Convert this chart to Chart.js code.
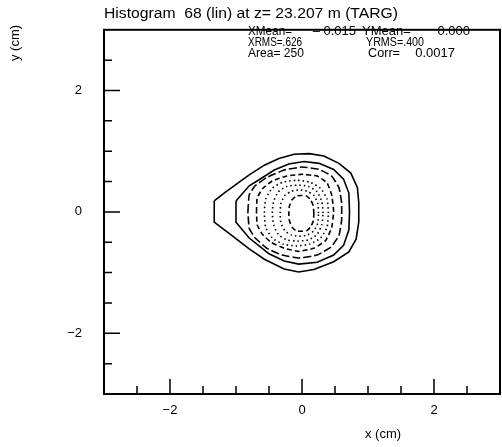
<!DOCTYPE html>
<html>
<head>
<meta charset="utf-8">
<script src="https://cdn.jsdelivr.net/npm/chart.js@4/dist/chart.umd.min.js"></script>
<style>
  body { margin: 0; background: #fff; }
  canvas { display: block; }
</style>
</head>
<body>
<canvas id="beamChart" width="502" height="447"></canvas>
<script>
// --- contour levels of histogram 68, x/y in cm ---
const contourOuter = [
  [-1.33, 0.18], [-1.18, 0.31], [-1.03, 0.43], [-0.80, 0.61], [-0.57, 0.77], [-0.35, 0.88],
  [-0.12, 0.95], [0.11, 0.96], [0.33, 0.92], [0.56, 0.80], [0.74, 0.64], [0.84, 0.40],
  [0.86, 0.15], [0.86, -0.17], [0.82, -0.45], [0.71, -0.66], [0.48, -0.82], [0.18, -0.95],
  [-0.05, -0.99], [-0.27, -0.94], [-0.57, -0.78], [-0.80, -0.61], [-1.06, -0.39], [-1.33, -0.17],
  [-1.33, 0.18]
];
const contourSecond = [
  [-1.00, 0.18], [-0.80, 0.43], [-0.65, 0.53], [-0.42, 0.69], [-0.20, 0.79], [0.03, 0.83],
  [0.26, 0.80], [0.48, 0.70], [0.63, 0.54], [0.71, 0.31], [0.72, 0.00], [0.71, -0.30],
  [0.63, -0.55], [0.48, -0.71], [0.23, -0.83], [-0.05, -0.86], [-0.27, -0.81], [-0.50, -0.69],
  [-0.65, -0.56], [-0.80, -0.43], [-1.00, -0.17], [-1.00, 0.18]
];
const contourThird = [
  [-0.82, 0.00], [-0.80, 0.28], [-0.71, 0.43], [-0.53, 0.57], [-0.27, 0.69], [0.00, 0.74],
  [0.26, 0.70], [0.45, 0.59], [0.56, 0.40], [0.60, 0.15], [0.60, -0.14], [0.56, -0.39],
  [0.44, -0.58], [0.23, -0.71], [-0.05, -0.76], [-0.30, -0.71], [-0.53, -0.60], [-0.71, -0.43],
  [-0.80, -0.27], [-0.82, 0.00]
];
const contourFourth = [
  [-0.69, 0.00], [-0.68, 0.23], [-0.60, 0.38], [-0.45, 0.51], [-0.23, 0.59], [0.00, 0.62],
  [0.23, 0.59], [0.38, 0.48], [0.45, 0.28], [0.48, 0.00], [0.45, -0.26], [0.36, -0.47],
  [0.18, -0.60], [-0.05, -0.65], [-0.27, -0.60], [-0.47, -0.50], [-0.60, -0.37], [-0.68, -0.21],
  [-0.69, 0.00]
];
const contourFifth = [
  [0.40, -0.02], [0.38, 0.21], [0.28, 0.39], [0.12, 0.49], [-0.09, 0.52], [-0.29, 0.49],
  [-0.45, 0.39], [-0.55, 0.21], [-0.57, -0.02], [-0.55, -0.25], [-0.45, -0.43], [-0.29, -0.53],
  [-0.09, -0.56], [0.12, -0.53], [0.28, -0.43], [0.38, -0.25], [0.40, -0.02]
];
const contourSixth = [
  [0.32, -0.02], [0.30, 0.17], [0.23, 0.33], [0.10, 0.42], [-0.07, 0.44], [-0.23, 0.42],
  [-0.36, 0.33], [-0.43, 0.17], [-0.45, -0.02], [-0.43, -0.21], [-0.36, -0.37], [-0.23, -0.46],
  [-0.07, -0.48], [0.10, -0.46], [0.23, -0.37], [0.30, -0.21], [0.32, -0.02]
];
const contourSeventh = [
  [0.25, -0.02], [0.24, 0.14], [0.18, 0.27], [0.08, 0.34], [-0.04, 0.36], [-0.16, 0.34],
  [-0.26, 0.27], [-0.32, 0.14], [-0.33, -0.02], [-0.32, -0.18], [-0.26, -0.31], [-0.16, -0.38],
  [-0.04, -0.40], [0.08, -0.38], [0.18, -0.31], [0.24, -0.18], [0.25, -0.02]
];
const contourHole = [
  [0.18, -0.03], [0.17, 0.10], [0.13, 0.20], [0.07, 0.26], [-0.01, 0.27], [-0.09, 0.26],
  [-0.15, 0.20], [-0.19, 0.10], [-0.20, -0.03], [-0.19, -0.15], [-0.15, -0.25], [-0.09, -0.31],
  [-0.01, -0.32], [0.07, -0.31], [0.13, -0.25], [0.17, -0.15], [0.18, -0.03]
];

// axis ticks (cm)
const xMajorTicks = [-2, 0, 2];
const xMinorTicks = [-2.5, -1.5, -1, -0.5, 0.5, 1, 1.5, 2.5];
const yMajorTicks = [-2, 0, 2];
const yMinorTicks = [-2.5, -1.5, -1, -0.5, 0.5, 1, 1.5, 2.5];

// header and statistics box
const titleText = 'Histogram  68 (lin) at z= 23.207 m (TARG)';
const statLabels = ['XMean=', '\u2013 0.015', 'YMean=', '0.000', 'XRMS=.626', 'YRMS=.400', 'Area= 250', 'Corr=', '0.0017'];

const FONT = '"Liberation Sans", Arial, sans-serif';
const NARROW = '"Liberation Sans Narrow", "Liberation Sans", Arial, sans-serif';

function levelSet(points, dash, width, tension) {
  return {
    data: points.map(p => ({ x: p[0], y: p[1] })),
    borderColor: '#000',
    borderWidth: width,
    borderDash: dash,
    pointRadius: 0,
    tension: tension,
    fill: false
  };
}

// squeeze/stretch a string so it spans [x0, x1]
function fitText(ctx, text, x0, x1, y) {
  const w = ctx.measureText(text).width;
  ctx.save();
  ctx.translate(x0, y);
  ctx.scale((x1 - x0) / w, 1);
  ctx.textAlign = 'left';
  ctx.fillText(text, 0, 0);
  ctx.restore();
}

// inward ticks, frame and text in the style of the old HBOOK plots
const hbookFrame = {
  id: 'hbookFrame',
  afterDraw(chart) {
    const { ctx, chartArea: a } = chart;
    const xs = chart.scales.x, ys = chart.scales.y;
    ctx.save();
    ctx.strokeStyle = '#000';
    ctx.lineWidth = 1.5;
    ctx.beginPath();
    xMajorTicks.forEach(v => { const p = xs.getPixelForValue(v); ctx.moveTo(p, a.bottom); ctx.lineTo(p, a.bottom - 15); });
    xMinorTicks.forEach(v => { const p = xs.getPixelForValue(v); ctx.moveTo(p, a.bottom); ctx.lineTo(p, a.bottom - 8); });
    yMajorTicks.forEach(v => { const p = ys.getPixelForValue(v); ctx.moveTo(a.left, p); ctx.lineTo(a.left + 16, p); });
    yMinorTicks.forEach(v => { const p = ys.getPixelForValue(v); ctx.moveTo(a.left, p); ctx.lineTo(a.left + 8, p); });
    ctx.stroke();

    ctx.lineWidth = 2;
    ctx.strokeRect(a.left, a.top, a.right - a.left, a.bottom - a.top);

    ctx.fillStyle = '#000';
    ctx.textBaseline = 'alphabetic';
    ctx.font = '14px ' + FONT;
    fitText(ctx, titleText, 104, 398, 18);

    ctx.font = '13px ' + NARROW;
    const s = statLabels;
    ctx.textAlign = 'left';
    ctx.fillText(s[0], 248, 35, 44);
    ctx.fillText(s[2], 362, 35, 50);
    ctx.fillText(s[4], 248, 46, 54);
    ctx.fillText(s[5], 366, 46, 58);
    ctx.fillText(s[6], 248, 57, 56);
    ctx.fillText(s[7], 368, 57, 32);
    ctx.textAlign = 'right';
    ctx.fillText(s[1], 356, 35);
    ctx.fillText(s[3], 470, 35);
    ctx.fillText(s[8], 455, 57);

    ctx.font = '13px ' + FONT;
    ctx.textAlign = 'center';
    ctx.fillText('x (cm)', 383, 438);
    ctx.translate(19, 43);
    ctx.rotate(-Math.PI / 2);
    ctx.fillText('y (cm)', 0, 0);
    ctx.restore();
  }
};

const axisLabel = v => (v < 0 ? '\u2212' + Math.abs(v) : String(v));

new Chart(document.getElementById('beamChart'), {
  type: 'line',
  data: {
    datasets: [
      levelSet(contourOuter, [], 1.6, 0),
      levelSet(contourSecond, [], 1.6, 0),
      levelSet(contourThird, [8, 3], 1.6, 0.1),
      levelSet(contourFourth, [5, 3], 1.6, 0.1),
      levelSet(contourFifth, [1.5, 3], 1.6, 0.2),
      levelSet(contourSixth, [1.5, 3], 1.6, 0.2),
      levelSet(contourSeventh, [1.5, 3], 1.6, 0.2),
      levelSet(contourHole, [5, 3], 1.6, 0.2)
    ]
  },
  options: {
    responsive: false,
    animation: false,
    layout: { padding: { left: 0, right: 2, top: 25, bottom: 0 } },
    plugins: { legend: { display: false }, tooltip: { enabled: false }, title: { display: false } },
    scales: {
      x: {
        type: 'linear', min: -3, max: 3,
        grid: { display: false, drawTicks: false },
        border: { display: false },
        afterFit: s => { s.height = 53; },
        afterBuildTicks: s => { s.ticks = xMajorTicks.map(v => ({ value: v })); },
        ticks: { padding: 9, color: '#000', font: { family: FONT, size: 13 }, callback: axisLabel, maxRotation: 0, autoSkip: false }
      },
      y: {
        type: 'linear', min: -3, max: 3,
        grid: { display: false, drawTicks: false },
        border: { display: false },
        afterFit: s => { s.width = 104; },
        afterBuildTicks: s => { s.ticks = yMajorTicks.map(v => ({ value: v })); },
        ticks: { padding: 22, color: '#000', font: { family: FONT, size: 13 }, callback: axisLabel, autoSkip: false }
      }
    }
  },
  plugins: [hbookFrame]
});
</script>
</body>
</html>
